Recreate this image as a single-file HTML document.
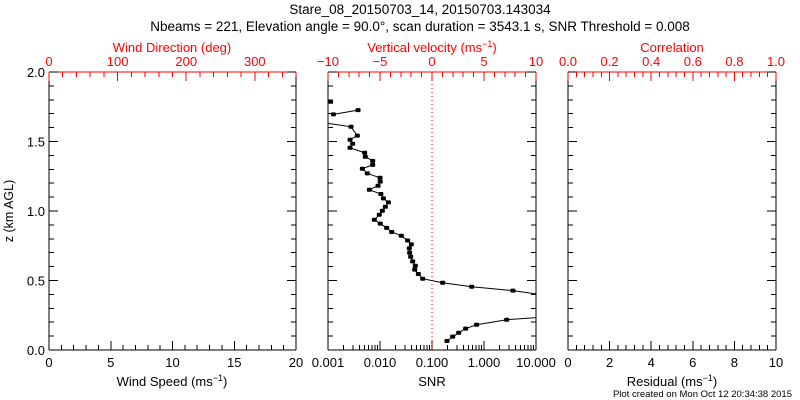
<!DOCTYPE html>
<html><head><meta charset="utf-8">
<style>
html,body{margin:0;padding:0;background:#fff;}
svg{display:block;font-family:"Liberation Sans","DejaVu Sans",sans-serif;}
</style></head>
<body>
<svg id="chart" width="800" height="400" viewBox="0 0 800 400" xmlns="http://www.w3.org/2000/svg">
<text x="420" y="14" font-size="13.5" text-anchor="middle">Stare_08_20150703_14, 20150703.143034</text>
<text x="420" y="31" font-size="13.5" text-anchor="middle">Nbeams = 221, Elevation angle = 90.0°, scan duration = 3543.1 s, SNR Threshold = 0.008</text>
<text transform="translate(13,211) rotate(-90)" font-size="12.5" text-anchor="middle">z (km AGL)</text>
<text x="792" y="397" font-size="9.5" text-anchor="end">Plot created on Mon Oct 12 20:34:38 2015</text>
<g id="g"></g>
</svg>
<script>
// SNR profile data (height km, SNR); null breaks line segments
const snrHeights = [1.786, null, 1.695, 1.726, null, 1.635, 1.606, 1.542, 1.513, 1.484, 1.455, 1.419, 1.390, 1.361, 1.332, 1.304, 1.271, 1.239, 1.211, 1.182, 1.153, 1.122, 1.091, 1.062, 1.031, 1.002, 0.973, 0.937, 0.909, 0.879, 0.849, 0.822, 0.788, 0.760, 0.731, 0.700, 0.671, 0.638, 0.606, 0.578, 0.547, 0.513, 0.484, 0.455, 0.427, 0.400, null, 0.237, 0.218, 0.182, 0.154, 0.124, 0.096, 0.065];
const snrValues = [0.00112, null, 0.00127, 0.00378, null, 0.0008, 0.00277, 0.00366, 0.00265, 0.00298, 0.00265, 0.00507, 0.00522, 0.00723, 0.00723, 0.00457, 0.00570, 0.0100, 0.0101, 0.00916, 0.00624, 0.0104, 0.0116, 0.0145, 0.0127, 0.0111, 0.0097, 0.00778, 0.0101, 0.0134, 0.0168, 0.0257, 0.0340, 0.0401, 0.0366, 0.0372, 0.0389, 0.0425, 0.0478, 0.0464, 0.0546, 0.0662, 0.160, 0.580, 3.61, 12, null, 14, 2.73, 0.72, 0.444, 0.326, 0.250, 0.194];
const heightTicks = ["0.0", "0.5", "1.0", "1.5", "2.0"];
const windSpeedTicks = ["0", "5", "10", "15", "20"];
const windDirTicks = ["0", "100", "200", "300"];
const velTicks = ["−10", "−5", "0", "5", "10"];
const snrTicks = ["0.001", "0.010", "0.100", "1.000", "10.000"];
const corrTicks = ["0.0", "0.2", "0.4", "0.6", "0.8", "1.0"];
const residTicks = ["0", "2", "4", "6", "8", "10"];

const NS = "http://www.w3.org/2000/svg";
const G = document.getElementById("g");
const TOP = 72, BOT = 350;
const yScale = v => BOT - (v / 2) * (BOT - TOP);
function el(tag, attrs, parent) {
  const e = document.createElementNS(NS, tag);
  for (const k in attrs) e.setAttribute(k, attrs[k]);
  (parent || G).appendChild(e);
  return e;
}
function txt(x, y, s, color, size, anchor, name) {
  const t = el("text", {x: x, y: y, fill: color, "font-size": size, "text-anchor": anchor || "middle"});
  t.textContent = s;
  
  
  return t;
}
function line(x1, y1, x2, y2, c, name) {
  const l = el("line", {x1: x1, y1: y1, x2: x2, y2: y2, stroke: c, "stroke-width": 1, "shape-rendering": "crispEdges"});
  if (name) {   }
  return l;
}
const panels = [
  {x0: 49, x1: 296, name: "wind-panel"},
  {x0: 328, x1: 536, name: "snr-panel"},
  {x0: 568, x1: 776, name: "correlation-panel"}
];
const RED = "#ff0000";
panels.forEach((p, pi) => {
  line(p.x0, TOP, p.x0, BOT, "#000", p.name + "-left-axis");
  line(p.x1, TOP, p.x1, BOT, "#000", p.name + "-right-axis");
  line(p.x0, BOT, p.x1, BOT, "#000", p.name + "-bottom-axis");
  line(p.x0, TOP, p.x1, TOP, RED, p.name + "-top-axis");
  for (let i = 0; i <= 20; i++) {
    const y = yScale(i * 0.1), len = (i % 5 === 0) ? 9 : 5;
    line(p.x0, y, p.x0 + len, y, "#000");
    line(p.x1, y, p.x1 - len, y, "#000");
  }
});
heightTicks.forEach(s => txt(45, yScale(parseFloat(s)) + 5, s, "#000", 13, "end", "y-tick-label"));

function linearAxis(p, labels, minorPer, top, color, name) {
  const n = labels.length - 1;
  const span = p.x1 - p.x0;
  const minorStep = span / (n * minorPer);
  for (let i = 0; i <= n * minorPer; i++) {
    const x = p.x0 + i * minorStep, len = (i % minorPer === 0) ? 9 : 5;
    if (top) line(x, TOP, x, TOP + len, color); else line(x, BOT, x, BOT - len, color);
  }
  labels.forEach((s, i) => {
    const x = p.x0 + i * span / n;
    txt(x, top ? TOP - 6 : BOT + 17, s, color, 13, "middle", name + "-tick-label");
  });
}
(function () {
  const p = panels[0], span = p.x1 - p.x0;
  for (let d = 0; d <= 360; d += 20) {
    const x = p.x0 + d / 360 * span;
    line(x, TOP, x, TOP + (d % 100 === 0 ? 9 : 5), RED);
  }
  windDirTicks.forEach(s => txt(p.x0 + parseFloat(s) / 360 * span, TOP - 6, s, RED, 13, "middle", "wind-direction-tick-label"));
})();
txt(172, 52, "Wind Direction (deg)", RED, 13, "middle", "wind-direction-axis-title");
linearAxis(panels[0], windSpeedTicks, 5, false, "#000", "wind-speed");
txt(172, 386, "", "#000", 13, "middle", "wind-speed-axis-title").innerHTML = 'Wind Speed (ms<tspan dy="-5" font-size="9">−1</tspan><tspan dy="5">)</tspan>';

linearAxis(panels[1], velTicks, 5, true, RED, "vertical-velocity");
txt(432, 52, "", RED, 13, "middle", "vertical-velocity-axis-title").innerHTML = 'Vertical velocity (ms<tspan dy="-5" font-size="9">−1</tspan><tspan dy="5">)</tspan>';
linearAxis(panels[2], corrTicks, 5, true, RED, "correlation");
txt(672, 52, "Correlation", RED, 13, "middle", "correlation-axis-title");
linearAxis(panels[2], residTicks, 5, false, "#000", "residual");
txt(672, 386, "", "#000", 13, "middle", "residual-axis-title").innerHTML = 'Residual (ms<tspan dy="-5" font-size="9">−1</tspan><tspan dy="5">)</tspan>';

const sp = panels[1];
const xSnr = v => sp.x0 + (Math.log10(v) + 3) / 4 * (sp.x1 - sp.x0);
for (let d = -3; d <= 1; d++) {
  for (let m = 1; m <= 9; m++) {
    if (d === 1 && m > 1) break;
    const x = xSnr(m * Math.pow(10, d));
    line(x, BOT, x, BOT - (m === 1 ? 9 : 5), "#000");
  }
}
snrTicks.forEach(s => txt(xSnr(parseFloat(s)), BOT + 17, s, "#000", 13, "middle", "snr-tick-label"));
txt(432, 386, "SNR", "#000", 13, "middle", "snr-axis-title");

const zx = (sp.x0 + sp.x1) / 2;
const zl = el("line", {x1: zx, y1: TOP, x2: zx, y2: BOT, stroke: RED, "stroke-width": 1, "stroke-dasharray": "1,3"});



el("clipPath", {id: "clipSnr"}, document.getElementById("chart")).appendChild(document.createElementNS(NS, "rect"));
const cr = document.querySelector("#clipSnr rect");
cr.setAttribute("x", sp.x0); cr.setAttribute("y", TOP); cr.setAttribute("width", sp.x1 - sp.x0); cr.setAttribute("height", BOT - TOP);
let d = "", pen = false;
for (let i = 0; i < snrHeights.length; i++) {
  if (snrHeights[i] === null) { pen = false; continue; }
  d += (pen ? "L" : "M") + xSnr(snrValues[i]).toFixed(1) + "," + yScale(snrHeights[i]).toFixed(1);
  pen = true;
}
const path = el("path", {d: d, fill: "none", stroke: "#000", "stroke-width": 1, "clip-path": "url(#clipSnr)"});


for (let i = 0; i < snrHeights.length; i++) {
  if (snrHeights[i] === null) continue;
  const v = snrValues[i];
  if (v < 0.001 || v > 10) continue;
  const c = el("rect", {x: xSnr(v) - 2.5, y: yScale(snrHeights[i]) - 2, width: 5, height: 4, rx: 1, fill: "#000"});
  
  
}
</script>
</body></html>
